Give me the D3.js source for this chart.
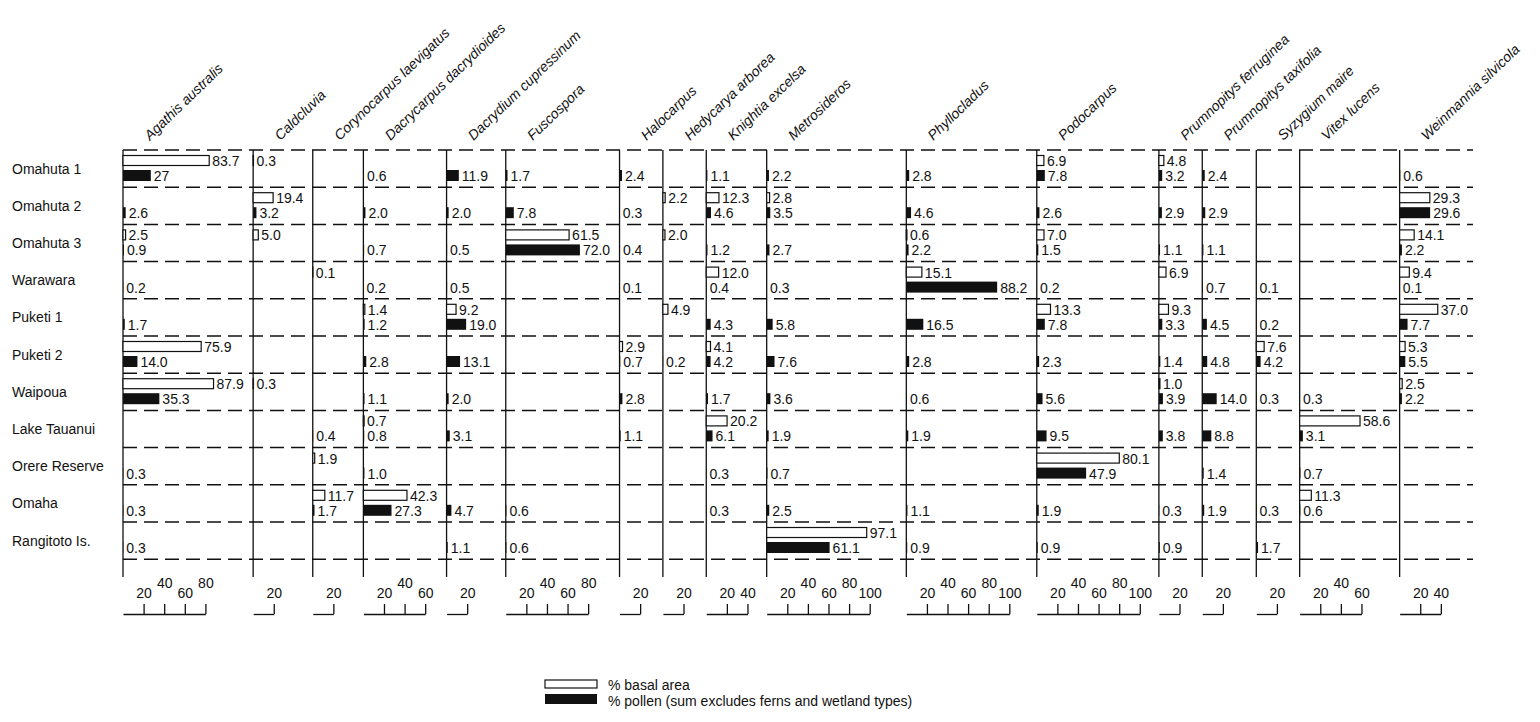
<!DOCTYPE html>
<html>
<head>
<meta charset="utf-8">
<script src="https://cdn.jsdelivr.net/npm/d3@7"></script>
<style>
  body { margin: 0; background: #fff; }
  text { font-family: "Liberation Sans", Arial, Helvetica, sans-serif; fill: #111; }
</style>
</head>
<body>
<svg id="chart" width="1540" height="722"></svg>
<script>
// Sites (rows), top to bottom.
const SITES = ["Omahuta 1", "Omahuta 2", "Omahuta 3", "Warawara", "Puketi 1", "Puketi 2",
    "Waipoua", "Lake Tauanui", "Orere Reserve", "Omaha", "Rangitoto Is."];

// Taxa (columns), left to right.
const TAXA = ["Agathis australis", "Caldcluvia", "Corynocarpus laevigatus", "Dacrycarpus dacrydioides",
    "Dacrydium cupressinum", "Fuscospora", "Halocarpus", "Hedycarya arborea", "Knightia excelsa",
    "Metrosideros", "Phyllocladus", "Podocarpus", "Prumnopitys ferruginea", "Prumnopitys taxifolia",
    "Syzygium maire", "Vitex lucens", "Weinmannia silvicola"];

// Last tick of each column's scale bar.
const AXIS_MAX = [80, 20, 20, 60, 20, 80, 20, 20, 40, 100, 100, 100, 20, 20, 20, 60, 40];

// % basal area, one row per taxon, one entry per site (null = not recorded).
// Kept as printed text so labels read exactly like the figure.
const BASAL_AREA = [
    ["83.7", null, "2.5", null, null, "75.9", "87.9", null, null, null, null],
    ["0.3", "19.4", "5.0", null, null, null, "0.3", null, null, null, null],
    [null, null, null, "0.1", null, null, null, null, "1.9", "11.7", null],
    [null, null, null, null, "1.4", null, null, "0.7", null, "42.3", null],
    [null, null, null, null, "9.2", null, null, null, null, null, null],
    [null, null, "61.5", null, null, null, null, null, null, null, null],
    [null, null, null, null, null, "2.9", null, null, null, null, null],
    [null, "2.2", "2.0", null, "4.9", null, null, null, null, null, null],
    [null, "12.3", null, "12.0", null, "4.1", null, "20.2", null, null, null],
    [null, "2.8", null, null, null, null, null, null, null, null, "97.1"],
    [null, null, "0.6", "15.1", null, null, null, null, null, null, null],
    ["6.9", null, "7.0", null, "13.3", null, null, null, "80.1", null, null],
    ["4.8", null, null, "6.9", "9.3", null, "1.0", null, null, null, null],
    [null, null, null, null, null, null, null, null, null, null, null],
    [null, null, null, null, null, "7.6", null, null, null, null, null],
    [null, null, null, null, null, null, null, "58.6", null, "11.3", null],
    [null, "29.3", "14.1", "9.4", "37.0", "5.3", "2.5", null, null, null, null]
];

// % pollen (sum excludes ferns and wetland types), same layout.
const POLLEN = [
    ["27", "2.6", "0.9", "0.2", "1.7", "14.0", "35.3", null, "0.3", "0.3", "0.3"],
    [null, "3.2", null, null, null, null, null, null, null, null, null],
    [null, null, null, null, null, null, null, "0.4", null, "1.7", null],
    ["0.6", "2.0", "0.7", "0.2", "1.2", "2.8", "1.1", "0.8", "1.0", "27.3", null],
    ["11.9", "2.0", "0.5", "0.5", "19.0", "13.1", "2.0", "3.1", null, "4.7", "1.1"],
    ["1.7", "7.8", "72.0", null, null, null, null, null, null, "0.6", "0.6"],
    ["2.4", "0.3", "0.4", "0.1", null, "0.7", "2.8", "1.1", null, null, null],
    [null, null, null, null, null, "0.2", null, null, null, null, null],
    ["1.1", "4.6", "1.2", "0.4", "4.3", "4.2", "1.7", "6.1", "0.3", "0.3", null],
    ["2.2", "3.5", "2.7", "0.3", "5.8", "7.6", "3.6", "1.9", "0.7", "2.5", "61.1"],
    ["2.8", "4.6", "2.2", "88.2", "16.5", "2.8", "0.6", "1.9", null, "1.1", "0.9"],
    ["7.8", "2.6", "1.5", "0.2", "7.8", "2.3", "5.6", "9.5", "47.9", "1.9", "0.9"],
    ["3.2", "2.9", "1.1", null, "3.3", "1.4", "3.9", "3.8", null, "0.3", "0.9"],
    ["2.4", "2.9", "1.1", "0.7", "4.5", "4.8", "14.0", "8.8", "1.4", "1.9", null],
    [null, null, null, "0.1", "0.2", "4.2", "0.3", null, null, "0.3", "1.7"],
    [null, null, null, null, null, null, "0.3", "3.1", "0.7", "0.6", null],
    ["0.6", "29.6", "2.2", "0.1", "7.7", "5.5", "2.2", null, null, null, null]
];

const LEGEND = ["% basal area", "% pollen (sum excludes ferns and wetland types)"];

// Layout.
const PX_PER_PCT = 1.03;
const LEFT = 123, RIGHT = 1473;
const TOP = 150, ROW_H = 37.2;
const LINE_BOTTOM = 577, AXIS_Y = 614;
const MIN_COL = 34;
const FONT = 14;

const svg = d3.select('#chart');

// Measure label widths so each column gets room for its longest bar + label.
const probe = svg.append('text').style('font-size', FONT + 'px');
const textWidth = s => { probe.text(s); return probe.node().getComputedTextLength(); };

const contentW = TAXA.map((_, i) => {
    const vals = BASAL_AREA[i].concat(POLLEN[i]).filter(v => v !== null);
    const need = d3.max(vals, v => PX_PER_PCT * (+v) + 3 + textWidth(v));
    return Math.max(PX_PER_PCT * AXIS_MAX[i], need, MIN_COL);
});
probe.remove();

// Spread the spare room between the columns; the last one ends a little short of the dashes.
const gap = (RIGHT - 5 - LEFT - d3.sum(contentW)) / (TAXA.length - 1);
const colX = TAXA.map((_, i) => LEFT + d3.sum(contentW.slice(0, i)) + gap * i);

const yScale = d3.scaleBand()
    .domain(SITES)
    .range([TOP, TOP + ROW_H * SITES.length]);

// Dashed row separators.
svg.append('g')
    .selectAll('line')
    .data(d3.range(SITES.length + 1))
    .join('line')
    .attr('x1', LEFT)
    .attr('x2', RIGHT)
    .attr('y1', i => TOP + i * ROW_H)
    .attr('y2', i => TOP + i * ROW_H)
    .attr('stroke', '#111')
    .attr('stroke-width', 1.5)
    .attr('stroke-dasharray', '14,7');

// Site names.
svg.append('g')
    .selectAll('text')
    .data(SITES)
    .join('text')
    .attr('x', 12)
    .attr('y', d => yScale(d) + ROW_H / 2 + 5)
    .style('font-size', FONT + 'px')
    .text(d => d);

// One panel per taxon.
TAXA.forEach((taxon, i) => {
    const x0 = colX[i];
    const xScale = d3.scaleLinear()
        .domain([0, AXIS_MAX[i]])
        .range([x0, x0 + PX_PER_PCT * AXIS_MAX[i]]);

    const g = svg.append('g').attr('class', 'panel');

    // Column header.
    g.append('text')
        .attr('transform', `translate(${x0 + 27},141) rotate(-44)`)
        .style('font-size', FONT + 'px')
        .style('font-style', 'italic')
        .text(taxon);

    // Left edge of the column.
    g.append('line')
        .attr('x1', x0).attr('x2', x0)
        .attr('y1', TOP).attr('y2', LINE_BOTTOM)
        .attr('stroke', '#111')
        .attr('stroke-width', 1.3);

    const cells = SITES.map((site, j) => ({site, basal: BASAL_AREA[i][j], pollen: POLLEN[i][j]}));

    // Basal area: open bars, upper half of the row.
    const basal = cells.filter(d => d.basal !== null);
    g.selectAll('.basal')
        .data(basal)
        .join('rect')
        .attr('class', 'basal')
        .attr('x', x0)
        .attr('y', d => yScale(d.site) + 5.5)
        .attr('width', d => xScale(+d.basal) - x0)
        .attr('height', 10)
        .attr('fill', '#fff')
        .attr('stroke', '#111')
        .attr('stroke-width', 1.2);
    g.selectAll('.basal-label')
        .data(basal)
        .join('text')
        .attr('class', 'basal-label')
        .attr('x', d => xScale(+d.basal) + 3)
        .attr('y', d => yScale(d.site) + 16)
        .style('font-size', FONT + 'px')
        .text(d => d.basal);

    // Pollen: filled bars, lower half of the row.
    const pollen = cells.filter(d => d.pollen !== null);
    g.selectAll('.pollen')
        .data(pollen)
        .join('rect')
        .attr('class', 'pollen')
        .attr('x', x0)
        .attr('y', d => yScale(d.site) + 20)
        .attr('width', d => xScale(+d.pollen) - x0)
        .attr('height', 11)
        .attr('fill', '#111');
    g.selectAll('.pollen-label')
        .data(pollen)
        .join('text')
        .attr('class', 'pollen-label')
        .attr('x', d => xScale(+d.pollen) + 3)
        .attr('y', d => yScale(d.site) + 31)
        .style('font-size', FONT + 'px')
        .text(d => d.pollen);

    // Scale bar under the column.
    const ticks = d3.range(20, AXIS_MAX[i] + 1, 20);
    const stagger = ticks.length > 2;
    const axisG = g.append('g')
        .attr('transform', `translate(0,${AXIS_Y})`)
        .call(d3.axisTop(xScale)
            .tickValues(ticks)
            .tickSize(10)
            .tickSizeOuter(0)
            .tickPadding(6)
            .tickFormat(d3.format('d')));
    axisG.selectAll('path, line').attr('stroke', '#111').attr('stroke-width', 1.3);
    axisG.selectAll('text')
        .attr('font-family', null)
        .style('font-size', FONT + 'px')
        .attr('y', d => (stagger && d % 40 === 0) ? -26 : -16);
});

// Legend.
const legend = svg.append('g').attr('transform', 'translate(545,680)');
legend.append('rect')
    .attr('x', 0).attr('y', 0).attr('width', 52).attr('height', 8)
    .attr('fill', '#fff').attr('stroke', '#111').attr('stroke-width', 1.2);
legend.append('rect')
    .attr('x', 0).attr('y', 14).attr('width', 52).attr('height', 10)
    .attr('fill', '#111');
legend.selectAll('text')
    .data(LEGEND)
    .join('text')
    .attr('x', 63)
    .attr('y', (_, i) => 10 + i * 16)
    .style('font-size', FONT + 'px')
    .text(d => d);
</script>
</body>
</html>
